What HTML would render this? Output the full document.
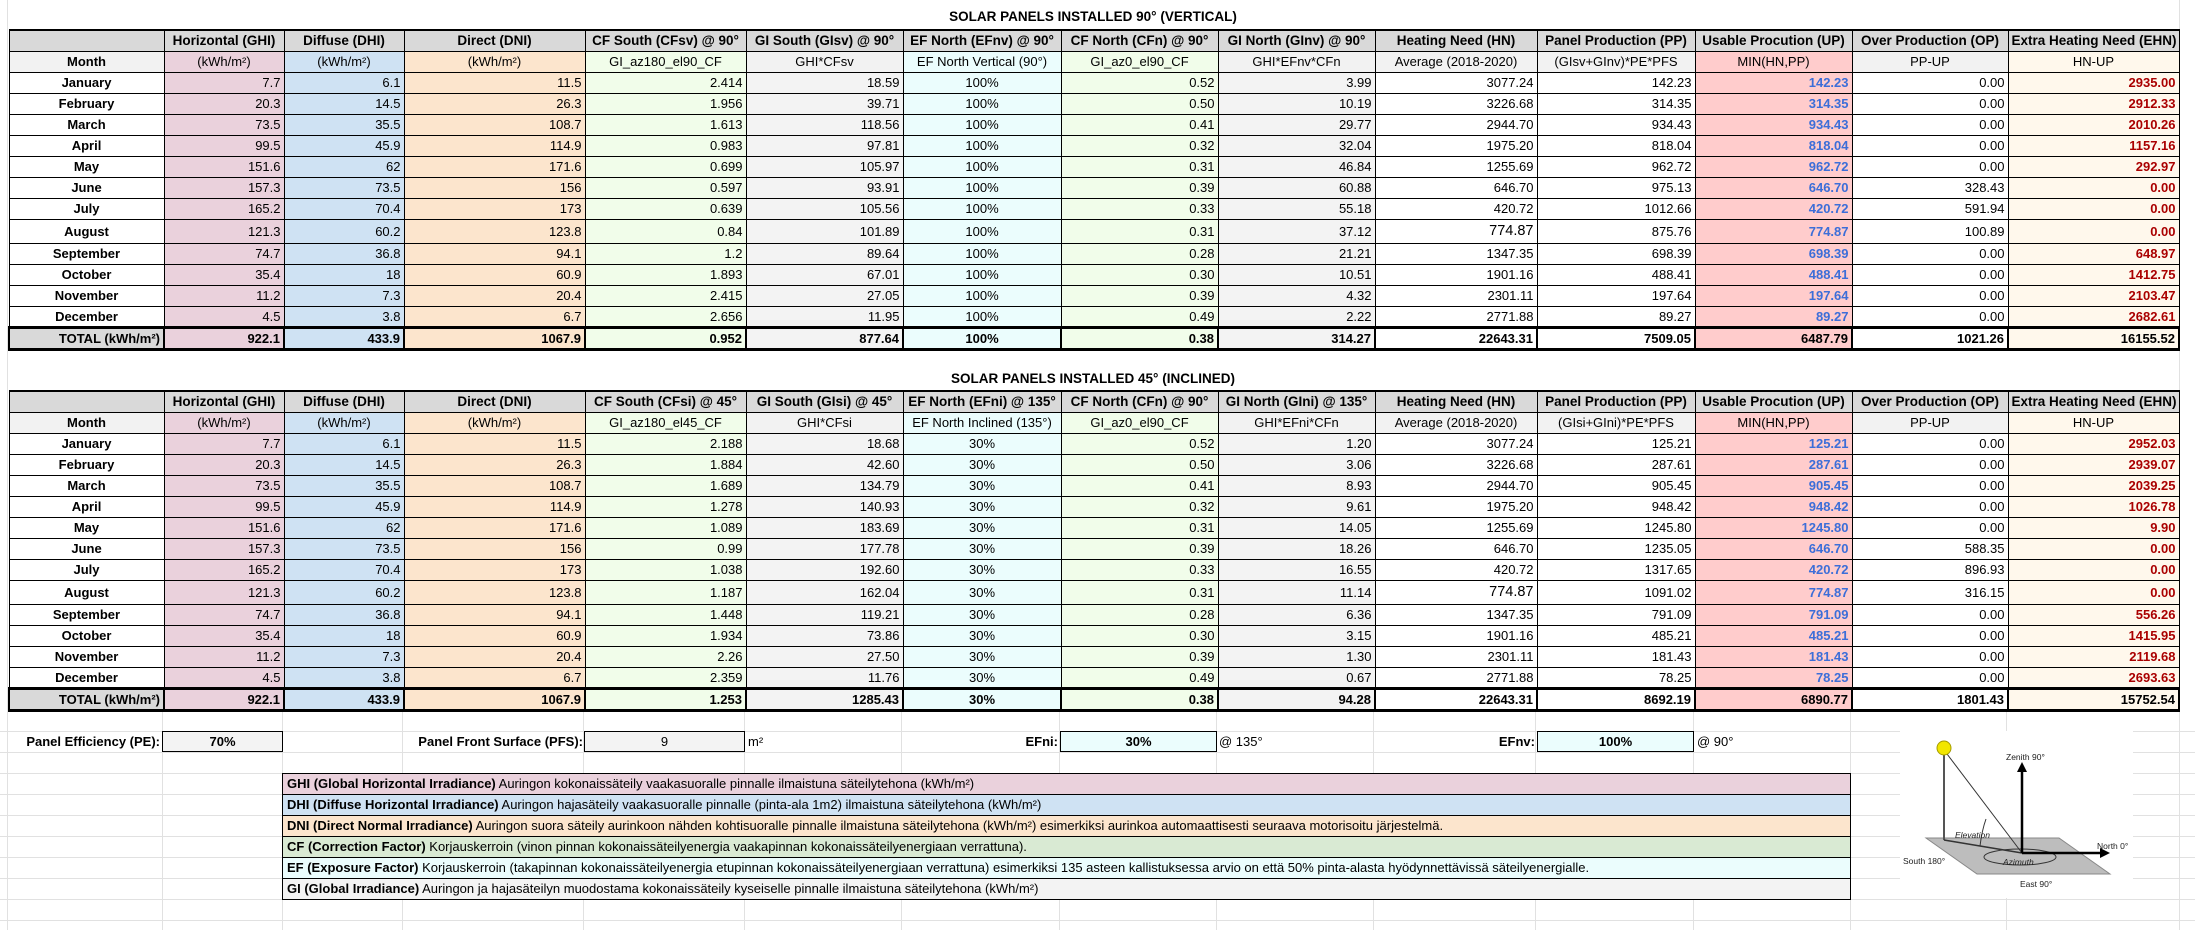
<!DOCTYPE html>
<html><head><meta charset="utf-8">
<style>
*{box-sizing:border-box;margin:0;padding:0}
body{width:2195px;height:930px;background:#fff;position:relative;overflow:hidden;font-family:"Liberation Sans",Arial,sans-serif;font-size:13px;color:#000}
.t{position:absolute;left:8px;border-collapse:collapse;table-layout:fixed;width:2170px}
.t td{border:1px solid #000;height:21px;padding:0 3px;white-space:nowrap;overflow:hidden;text-align:right;line-height:19px}
.t tr.h td{background:#d9d9d9;font-weight:bold;text-align:center;font-size:13.5px}
.t tr.s td{text-align:center;background:#f2f2f2}
.t tr.h td{border-top:2px solid #000}
.t td.m{text-align:center;font-weight:bold;background:#fff}
.t tr.s td.m{background:#f2f2f2}
.t tr.a td{height:24px}
.t tr.a td.hn{font-size:14.5px}
.c1{background:#ead1dc!important}.c2{background:#cfe2f3!important}.c3{background:#fce5cd!important}
.c4{background:#f1fdea!important}.c5{background:#f3f3f3!important}.c6{background:#ebfdfd!important;text-align:center!important}
.c7{background:#f1fdea!important}.c8{background:#f3f3f3!important}
.c11{background:#ffcccc!important;color:#3c6ed8;font-weight:bold}
.c13{background:#fff8ec!important;color:#a00;font-weight:bold}
.t tr.h td.c11,.t tr.s td.c11{color:#000}
.t tr.s td.c11{font-weight:normal}
.t tr.s td.c13{color:#000;font-weight:normal}
.t tr.h td.c13{color:#000}
.t tr.tot td{font-weight:bold;border-top:3px solid #000;border-bottom:3px solid #000;border-left:2px solid #000;border-right:2px solid #000;color:#000}
.t tr.tot td.m{background:#d9d9d9;text-align:right}
.title{position:absolute;left:8px;width:2170px;text-align:center;font-weight:bold;font-size:13.5px}
.gv{position:absolute;width:1px;background:#e1e1e1}
.gh{position:absolute;height:1px;background:#e1e1e1}
.lbl{position:absolute;font-weight:bold;text-align:right;height:21px;line-height:21px}
.box{position:absolute;border:1px solid #000;height:21px;line-height:19px;text-align:center;font-weight:bold}
.leg{position:absolute;left:282px;width:1569px;border:1px solid #000;border-bottom:none}
.leg div{height:21px;line-height:20px;border-bottom:1px solid #000;padding-left:4px;white-space:nowrap}
</style></head><body>

<div class="gv" style="left:7px;top:0;height:930px"></div>
<div class="gv" style="left:2179px;top:0;height:930px"></div>
<div class="gv" style="left:162px;top:710px;height:220px"></div>
<div class="gv" style="left:282px;top:710px;height:220px"></div>
<div class="gv" style="left:402px;top:710px;height:220px"></div>
<div class="gv" style="left:583px;top:710px;height:220px"></div>
<div class="gv" style="left:744px;top:710px;height:220px"></div>
<div class="gv" style="left:901px;top:710px;height:220px"></div>
<div class="gv" style="left:1059px;top:710px;height:220px"></div>
<div class="gv" style="left:1216px;top:710px;height:220px"></div>
<div class="gv" style="left:1373px;top:710px;height:220px"></div>
<div class="gv" style="left:1535px;top:710px;height:220px"></div>
<div class="gv" style="left:1693px;top:710px;height:220px"></div>
<div class="gv" style="left:1850px;top:710px;height:220px"></div>
<div class="gv" style="left:2006px;top:710px;height:220px"></div>
<div class="gh" style="left:0;width:2195px;top:731px"></div>
<div class="gh" style="left:0;width:2195px;top:752px"></div>
<div class="gh" style="left:0;width:2195px;top:773px"></div>
<div class="gh" style="left:0;width:2195px;top:794px"></div>
<div class="gh" style="left:0;width:2195px;top:815px"></div>
<div class="gh" style="left:0;width:2195px;top:836px"></div>
<div class="gh" style="left:0;width:2195px;top:857px"></div>
<div class="gh" style="left:0;width:2195px;top:878px"></div>
<div class="gh" style="left:0;width:2195px;top:899px"></div>
<div class="gh" style="left:0;width:2195px;top:920px"></div>

<div class="title" style="top:9px">SOLAR PANELS INSTALLED 90° (VERTICAL)</div>
<table class="t" style="top:29px">
<colgroup><col style="width:155px"><col style="width:120px"><col style="width:120px"><col style="width:181px"><col style="width:161px"><col style="width:157px"><col style="width:158px"><col style="width:157px"><col style="width:157px"><col style="width:162px"><col style="width:158px"><col style="width:157px"><col style="width:156px"><col style="width:171px"></colgroup>
<tr class="h"><td class="m" style="background:#d9d9d9"></td><td>Horizontal (GHI)</td><td>Diffuse (DHI)</td><td>Direct (DNI)</td><td>CF South (CFsv) @ 90°</td><td>GI South (GIsv) @ 90°</td><td>EF North (EFnv) @ 90°</td><td>CF North (CFn) @ 90°</td><td>GI North (GInv) @ 90°</td><td>Heating Need (HN)</td><td>Panel Production (PP)</td><td>Usable Procution (UP)</td><td>Over Production (OP)</td><td>Extra Heating Need (EHN)</td></tr>
<tr class="s"><td class="m">Month</td><td class="c1">(kWh/m²)</td><td class="c2">(kWh/m²)</td><td class="c3">(kWh/m²)</td><td class="c4">GI_az180_el90_CF</td><td>GHI*CFsv</td><td class="c6">EF North Vertical (90°)</td><td class="c7">GI_az0_el90_CF</td><td>GHI*EFnv*CFn</td><td>Average (2018-2020)</td><td>(GIsv+GInv)*PE*PFS</td><td class="c11">MIN(HN,PP)</td><td>PP-UP</td><td class="c13">HN-UP</td></tr>
<tr><td class="m">January</td><td class="c1">7.7</td><td class="c2">6.1</td><td class="c3">11.5</td><td class="c4">2.414</td><td class="c5">18.59</td><td class="c6">100%</td><td class="c7">0.52</td><td class="c8">3.99</td><td>3077.24</td><td>142.23</td><td class="c11">142.23</td><td>0.00</td><td class="c13">2935.00</td></tr>
<tr><td class="m">February</td><td class="c1">20.3</td><td class="c2">14.5</td><td class="c3">26.3</td><td class="c4">1.956</td><td class="c5">39.71</td><td class="c6">100%</td><td class="c7">0.50</td><td class="c8">10.19</td><td>3226.68</td><td>314.35</td><td class="c11">314.35</td><td>0.00</td><td class="c13">2912.33</td></tr>
<tr><td class="m">March</td><td class="c1">73.5</td><td class="c2">35.5</td><td class="c3">108.7</td><td class="c4">1.613</td><td class="c5">118.56</td><td class="c6">100%</td><td class="c7">0.41</td><td class="c8">29.77</td><td>2944.70</td><td>934.43</td><td class="c11">934.43</td><td>0.00</td><td class="c13">2010.26</td></tr>
<tr><td class="m">April</td><td class="c1">99.5</td><td class="c2">45.9</td><td class="c3">114.9</td><td class="c4">0.983</td><td class="c5">97.81</td><td class="c6">100%</td><td class="c7">0.32</td><td class="c8">32.04</td><td>1975.20</td><td>818.04</td><td class="c11">818.04</td><td>0.00</td><td class="c13">1157.16</td></tr>
<tr><td class="m">May</td><td class="c1">151.6</td><td class="c2">62</td><td class="c3">171.6</td><td class="c4">0.699</td><td class="c5">105.97</td><td class="c6">100%</td><td class="c7">0.31</td><td class="c8">46.84</td><td>1255.69</td><td>962.72</td><td class="c11">962.72</td><td>0.00</td><td class="c13">292.97</td></tr>
<tr><td class="m">June</td><td class="c1">157.3</td><td class="c2">73.5</td><td class="c3">156</td><td class="c4">0.597</td><td class="c5">93.91</td><td class="c6">100%</td><td class="c7">0.39</td><td class="c8">60.88</td><td>646.70</td><td>975.13</td><td class="c11">646.70</td><td>328.43</td><td class="c13">0.00</td></tr>
<tr><td class="m">July</td><td class="c1">165.2</td><td class="c2">70.4</td><td class="c3">173</td><td class="c4">0.639</td><td class="c5">105.56</td><td class="c6">100%</td><td class="c7">0.33</td><td class="c8">55.18</td><td>420.72</td><td>1012.66</td><td class="c11">420.72</td><td>591.94</td><td class="c13">0.00</td></tr>
<tr class="a"><td class="m">August</td><td class="c1">121.3</td><td class="c2">60.2</td><td class="c3">123.8</td><td class="c4">0.84</td><td class="c5">101.89</td><td class="c6">100%</td><td class="c7">0.31</td><td class="c8">37.12</td><td class="hn">774.87</td><td>875.76</td><td class="c11">774.87</td><td>100.89</td><td class="c13">0.00</td></tr>
<tr><td class="m">September</td><td class="c1">74.7</td><td class="c2">36.8</td><td class="c3">94.1</td><td class="c4">1.2</td><td class="c5">89.64</td><td class="c6">100%</td><td class="c7">0.28</td><td class="c8">21.21</td><td>1347.35</td><td>698.39</td><td class="c11">698.39</td><td>0.00</td><td class="c13">648.97</td></tr>
<tr><td class="m">October</td><td class="c1">35.4</td><td class="c2">18</td><td class="c3">60.9</td><td class="c4">1.893</td><td class="c5">67.01</td><td class="c6">100%</td><td class="c7">0.30</td><td class="c8">10.51</td><td>1901.16</td><td>488.41</td><td class="c11">488.41</td><td>0.00</td><td class="c13">1412.75</td></tr>
<tr><td class="m">November</td><td class="c1">11.2</td><td class="c2">7.3</td><td class="c3">20.4</td><td class="c4">2.415</td><td class="c5">27.05</td><td class="c6">100%</td><td class="c7">0.39</td><td class="c8">4.32</td><td>2301.11</td><td>197.64</td><td class="c11">197.64</td><td>0.00</td><td class="c13">2103.47</td></tr>
<tr><td class="m">December</td><td class="c1">4.5</td><td class="c2">3.8</td><td class="c3">6.7</td><td class="c4">2.656</td><td class="c5">11.95</td><td class="c6">100%</td><td class="c7">0.49</td><td class="c8">2.22</td><td>2771.88</td><td>89.27</td><td class="c11">89.27</td><td>0.00</td><td class="c13">2682.61</td></tr>
<tr class="tot"><td class="m">TOTAL (kWh/m²)</td><td class="c1">922.1</td><td class="c2">433.9</td><td class="c3">1067.9</td><td class="c4">0.952</td><td class="c5">877.64</td><td class="c6">100%</td><td class="c7">0.38</td><td class="c8">314.27</td><td>22643.31</td><td>7509.05</td><td class="c11">6487.79</td><td>1021.26</td><td class="c13">16155.52</td></tr>
</table>

<div class="title" style="top:371px">SOLAR PANELS INSTALLED 45° (INCLINED)</div>
<table class="t" style="top:390px">
<colgroup><col style="width:155px"><col style="width:120px"><col style="width:120px"><col style="width:181px"><col style="width:161px"><col style="width:157px"><col style="width:158px"><col style="width:157px"><col style="width:157px"><col style="width:162px"><col style="width:158px"><col style="width:157px"><col style="width:156px"><col style="width:171px"></colgroup>
<tr class="h"><td class="m" style="background:#d9d9d9"></td><td>Horizontal (GHI)</td><td>Diffuse (DHI)</td><td>Direct (DNI)</td><td>CF South (CFsi) @ 45°</td><td>GI South (GIsi) @ 45°</td><td>EF North (EFni) @ 135°</td><td>CF North (CFn) @ 90°</td><td>GI North (GIni) @ 135°</td><td>Heating Need (HN)</td><td>Panel Production (PP)</td><td>Usable Procution (UP)</td><td>Over Production (OP)</td><td>Extra Heating Need (EHN)</td></tr>
<tr class="s"><td class="m">Month</td><td class="c1">(kWh/m²)</td><td class="c2">(kWh/m²)</td><td class="c3">(kWh/m²)</td><td class="c4">GI_az180_el45_CF</td><td>GHI*CFsi</td><td class="c6">EF North Inclined (135°)</td><td class="c7">GI_az0_el90_CF</td><td>GHI*EFni*CFn</td><td>Average (2018-2020)</td><td>(GIsi+GIni)*PE*PFS</td><td class="c11">MIN(HN,PP)</td><td>PP-UP</td><td class="c13">HN-UP</td></tr>
<tr><td class="m">January</td><td class="c1">7.7</td><td class="c2">6.1</td><td class="c3">11.5</td><td class="c4">2.188</td><td class="c5">18.68</td><td class="c6">30%</td><td class="c7">0.52</td><td class="c8">1.20</td><td>3077.24</td><td>125.21</td><td class="c11">125.21</td><td>0.00</td><td class="c13">2952.03</td></tr>
<tr><td class="m">February</td><td class="c1">20.3</td><td class="c2">14.5</td><td class="c3">26.3</td><td class="c4">1.884</td><td class="c5">42.60</td><td class="c6">30%</td><td class="c7">0.50</td><td class="c8">3.06</td><td>3226.68</td><td>287.61</td><td class="c11">287.61</td><td>0.00</td><td class="c13">2939.07</td></tr>
<tr><td class="m">March</td><td class="c1">73.5</td><td class="c2">35.5</td><td class="c3">108.7</td><td class="c4">1.689</td><td class="c5">134.79</td><td class="c6">30%</td><td class="c7">0.41</td><td class="c8">8.93</td><td>2944.70</td><td>905.45</td><td class="c11">905.45</td><td>0.00</td><td class="c13">2039.25</td></tr>
<tr><td class="m">April</td><td class="c1">99.5</td><td class="c2">45.9</td><td class="c3">114.9</td><td class="c4">1.278</td><td class="c5">140.93</td><td class="c6">30%</td><td class="c7">0.32</td><td class="c8">9.61</td><td>1975.20</td><td>948.42</td><td class="c11">948.42</td><td>0.00</td><td class="c13">1026.78</td></tr>
<tr><td class="m">May</td><td class="c1">151.6</td><td class="c2">62</td><td class="c3">171.6</td><td class="c4">1.089</td><td class="c5">183.69</td><td class="c6">30%</td><td class="c7">0.31</td><td class="c8">14.05</td><td>1255.69</td><td>1245.80</td><td class="c11">1245.80</td><td>0.00</td><td class="c13">9.90</td></tr>
<tr><td class="m">June</td><td class="c1">157.3</td><td class="c2">73.5</td><td class="c3">156</td><td class="c4">0.99</td><td class="c5">177.78</td><td class="c6">30%</td><td class="c7">0.39</td><td class="c8">18.26</td><td>646.70</td><td>1235.05</td><td class="c11">646.70</td><td>588.35</td><td class="c13">0.00</td></tr>
<tr><td class="m">July</td><td class="c1">165.2</td><td class="c2">70.4</td><td class="c3">173</td><td class="c4">1.038</td><td class="c5">192.60</td><td class="c6">30%</td><td class="c7">0.33</td><td class="c8">16.55</td><td>420.72</td><td>1317.65</td><td class="c11">420.72</td><td>896.93</td><td class="c13">0.00</td></tr>
<tr class="a"><td class="m">August</td><td class="c1">121.3</td><td class="c2">60.2</td><td class="c3">123.8</td><td class="c4">1.187</td><td class="c5">162.04</td><td class="c6">30%</td><td class="c7">0.31</td><td class="c8">11.14</td><td class="hn">774.87</td><td>1091.02</td><td class="c11">774.87</td><td>316.15</td><td class="c13">0.00</td></tr>
<tr><td class="m">September</td><td class="c1">74.7</td><td class="c2">36.8</td><td class="c3">94.1</td><td class="c4">1.448</td><td class="c5">119.21</td><td class="c6">30%</td><td class="c7">0.28</td><td class="c8">6.36</td><td>1347.35</td><td>791.09</td><td class="c11">791.09</td><td>0.00</td><td class="c13">556.26</td></tr>
<tr><td class="m">October</td><td class="c1">35.4</td><td class="c2">18</td><td class="c3">60.9</td><td class="c4">1.934</td><td class="c5">73.86</td><td class="c6">30%</td><td class="c7">0.30</td><td class="c8">3.15</td><td>1901.16</td><td>485.21</td><td class="c11">485.21</td><td>0.00</td><td class="c13">1415.95</td></tr>
<tr><td class="m">November</td><td class="c1">11.2</td><td class="c2">7.3</td><td class="c3">20.4</td><td class="c4">2.26</td><td class="c5">27.50</td><td class="c6">30%</td><td class="c7">0.39</td><td class="c8">1.30</td><td>2301.11</td><td>181.43</td><td class="c11">181.43</td><td>0.00</td><td class="c13">2119.68</td></tr>
<tr><td class="m">December</td><td class="c1">4.5</td><td class="c2">3.8</td><td class="c3">6.7</td><td class="c4">2.359</td><td class="c5">11.76</td><td class="c6">30%</td><td class="c7">0.49</td><td class="c8">0.67</td><td>2771.88</td><td>78.25</td><td class="c11">78.25</td><td>0.00</td><td class="c13">2693.63</td></tr>
<tr class="tot"><td class="m">TOTAL (kWh/m²)</td><td class="c1">922.1</td><td class="c2">433.9</td><td class="c3">1067.9</td><td class="c4">1.253</td><td class="c5">1285.43</td><td class="c6">30%</td><td class="c7">0.38</td><td class="c8">94.28</td><td>22643.31</td><td>8692.19</td><td class="c11">6890.77</td><td>1801.43</td><td class="c13">15752.54</td></tr>
</table>

<div class="lbl" style="left:0;width:160px;top:731px">Panel Efficiency (PE):</div>
<div class="box" style="left:162px;width:121px;top:731px;background:#f3f3f3">70%</div>
<div class="lbl" style="left:300px;width:283px;top:731px">Panel Front Surface (PFS):</div>
<div class="box" style="left:584px;width:161px;top:731px;background:#f3f3f3;font-weight:normal">9</div>
<div class="lbl" style="left:748px;top:731px;text-align:left;font-weight:normal">m²</div>
<div class="lbl" style="left:900px;width:158px;top:731px">EFni:</div>
<div class="box" style="left:1060px;width:157px;top:731px;background:#ebfdfd">30%</div>
<div class="lbl" style="left:1219px;top:731px;text-align:left;font-weight:normal">@ 135°</div>
<div class="lbl" style="left:1380px;width:155px;top:731px">EFnv:</div>
<div class="box" style="left:1537px;width:157px;top:731px;background:#ebfdfd">100%</div>
<div class="lbl" style="left:1697px;top:731px;text-align:left;font-weight:normal">@ 90°</div>

<div class="leg" style="top:773px">
<div style="background:#ead1dc"><b>GHI (Global Horizontal Irradiance)</b> Auringon kokonaissäteily vaakasuoralle pinnalle ilmaistuna säteilytehona (kWh/m²)</div>
<div style="background:#cfe2f3"><b>DHI (Diffuse Horizontal Irradiance)</b> Auringon hajasäteily vaakasuoralle pinnalle (pinta-ala 1m2) ilmaistuna säteilytehona (kWh/m²)</div>
<div style="background:#fce5cd"><b>DNI (Direct Normal Irradiance)</b> Auringon suora säteily aurinkoon nähden kohtisuoralle pinnalle ilmaistuna säteilytehona (kWh/m²) esimerkiksi aurinkoa automaattisesti seuraava motorisoitu järjestelmä.</div>
<div style="background:#d9ead3"><b>CF (Correction Factor)</b> Korjauskerroin (vinon pinnan kokonaissäteilyenergia vaakapinnan kokonaissäteilyenergiaan verrattuna).</div>
<div style="background:#ebfdfd"><b>EF (Exposure Factor)</b> Korjauskerroin (takapinnan kokonaissäteilyenergia etupinnan kokonaissäteilyenergiaan verrattuna) esimerkiksi 135 asteen kallistuksessa arvio on että 50% pinta-alasta hyödynnettävissä säteilyenergialle.</div>
<div style="background:#f3f3f3"><b>GI (Global Irradiance)</b> Auringon ja hajasäteilyn muodostama kokonaissäteily kyseiselle pinnalle ilmaistuna säteilytehona (kWh/m²)</div>
</div>

<svg style="position:absolute;left:1900px;top:731px" width="233" height="167" viewBox="1900 731 233 167">
<rect x="1900" y="731" width="233" height="167" fill="#fff"/>
<polygon points="1926,838 2059,838 2110,874 1977,874" fill="#bdbdbd" stroke="#888" stroke-width="1"/>
<ellipse cx="2020" cy="857" rx="36" ry="8" fill="none" stroke="#333" stroke-width="1"/>
<line x1="1944" y1="750" x2="1944" y2="840" stroke="#555" stroke-width="2"/>
<line x1="1944" y1="750" x2="2022" y2="853" stroke="#333" stroke-width="1"/>
<line x1="1944" y1="840" x2="2022" y2="853" stroke="#333" stroke-width="1.5"/>
<path d="M1980,846 Q1982,830 1986,819" fill="none" stroke="#333" stroke-width="1"/>
<line x1="2022" y1="853" x2="2022" y2="768" stroke="#000" stroke-width="2.5"/>
<polygon points="2022,762 2017,772 2027,772" fill="#000"/>
<line x1="2022" y1="853" x2="2100" y2="853" stroke="#000" stroke-width="2.5"/>
<polygon points="2110,853 2100,848 2100,858" fill="#000"/>
<circle cx="1944" cy="748" r="7" fill="#f2e600" stroke="#a59c00" stroke-width="1"/>
<g font-family="Liberation Sans, sans-serif" font-size="8.5" fill="#222">
<text x="2006" y="760">Zenith 90°</text>
<text x="2097" y="849">North 0°</text>
<text x="1903" y="864">South 180°</text>
<text x="2020" y="887">East 90°</text>
<text x="1955" y="838" font-style="italic">Elevation</text>
<text x="2003" y="865" font-style="italic">Azimuth</text>
</g>
</svg>
</body></html>
